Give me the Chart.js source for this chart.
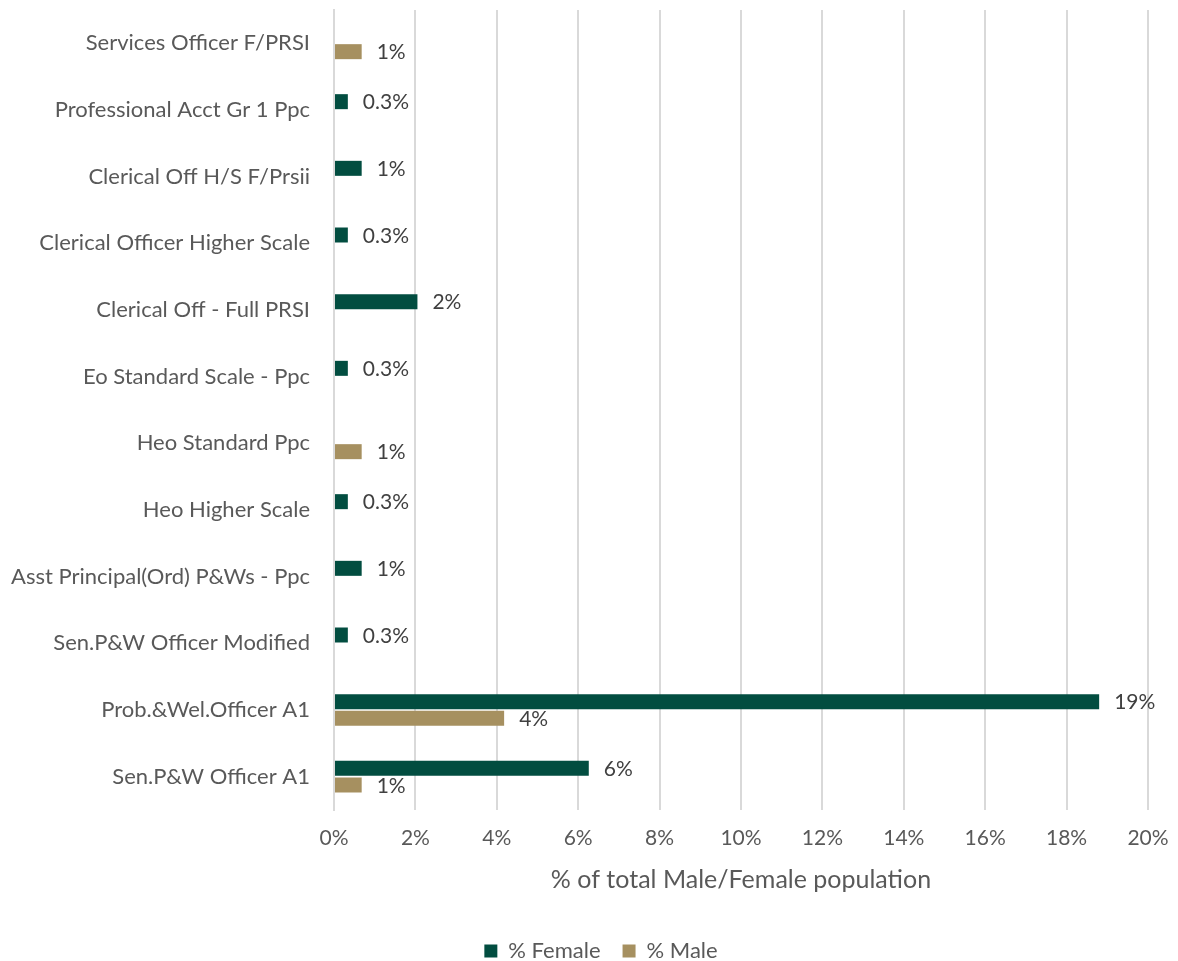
<!DOCTYPE html>
<html>
<head>
<meta charset="utf-8">
<script src="https://cdn.jsdelivr.net/npm/chart.js@4/dist/chart.umd.min.js"></script>
<style>
  html, body { margin: 0; padding: 0; background: #ffffff; overflow: hidden; }
  #wrap { width: 1178px; height: 961px; position: relative; overflow: hidden; }
  #chart { display: block; }
</style>
</head>
<body>
<div id="wrap"><canvas id="chart" width="1178" height="972"></canvas></div>
<script>
// Grades, listed top to bottom
const grades = [
  "Services Officer F/PRSI",
  "Professional Acct Gr 1 Ppc",
  "Clerical Off H/S F/Prsii",
  "Clerical Officer Higher Scale",
  "Clerical Off - Full PRSI",
  "Eo Standard Scale - Ppc",
  "Heo Standard Ppc",
  "Heo Higher Scale",
  "Asst Principal(Ord) P&Ws - Ppc",
  "Sen.P&W Officer Modified",
  "Prob.&Wel.Officer A1",
  "Sen.P&W Officer A1"
];

// Share of the total female / male population in each grade (%)
const femaleShare = [null, 0.34, 0.68, 0.34, 2.05, 0.34, null, 0.34, 0.68, 0.34, 18.8, 6.26];
const maleShare   = [0.68, null, null, null, null, null, 0.68, null, null, null, 4.18, 0.68];

// Value axis ticks (%)
const axisTicks = [0, 2, 4, 6, 8, 10, 12, 14, 16, 18, 20];

const FONT = "Lato, 'Open Sans', sans-serif";
const TEXT = "#595959";

function pctLabel(v) {
  return (v < 0.5 ? v.toFixed(1) : Math.round(v).toString()) + "%";
}

// Writes each bar's value just past its end
const barValueLabels = {
  id: "barValueLabels",
  afterDatasetsDraw(chart) {
    const ctx = chart.ctx;
    ctx.save();
    ctx.font = "21px " + FONT;
    ctx.fillStyle = "#404040";
    ctx.textAlign = "left";
    ctx.textBaseline = "middle";
    chart.data.datasets.forEach((ds, di) => {
      const meta = chart.getDatasetMeta(di);
      meta.data.forEach((bar, i) => {
        const v = ds.data[i];
        if (v === null || v === undefined) return;
        ctx.fillText(pctLabel(v), bar.x + 15, bar.y + 1);
      });
    });
    ctx.restore();
  }
};

new Chart(document.getElementById("chart"), {
  type: "bar",
  data: {
    labels: grades,
    datasets: [
      {
        label: "% Female",
        data: femaleShare,
        backgroundColor: "#024D40",
        borderWidth: 0,
        categoryPercentage: 0.5,
        barPercentage: 0.9
      },
      {
        label: "% Male",
        data: maleShare,
        backgroundColor: "#A69060",
        borderWidth: 0,
        categoryPercentage: 0.5,
        barPercentage: 0.9
      }
    ]
  },
  options: {
    indexAxis: "y",
    responsive: false,
    animation: false,
    devicePixelRatio: 1,
    layout: { padding: { top: 10, right: -14, bottom: 0, left: 10 } },
    plugins: {
      legend: {
        position: "bottom",
        labels: {
          color: TEXT,
          font: { family: FONT, size: 22 },
          boxWidth: 13,
          boxHeight: 13,
          padding: 22,
          generateLabels(chart) {
            return chart.data.datasets.map((ds, i) => ({
              text: ds.label,
              fillStyle: ds.backgroundColor,
              strokeStyle: ds.backgroundColor,
              lineWidth: 0,
              fontColor: TEXT,
              datasetIndex: i,
              hidden: false
            }));
          }
        }
      },
      tooltip: { enabled: false }
    },
    scales: {
      x: {
        min: 0,
        max: 20,
        afterBuildTicks(scale) {
          scale.ticks = axisTicks.map(v => ({ value: v }));
        },
        ticks: {
          color: TEXT,
          font: { family: FONT, size: 21 },
          padding: 16,
          callback: v => v + "%"
        },
        grid: { color: "#d9d9d9", lineWidth: 2, drawTicks: false },
        border: { display: false },
        title: {
          display: true,
          text: "% of total Male/Female population",
          color: TEXT,
          font: { family: FONT, size: 25 },
          padding: { top: 10, bottom: 23 }
        },
        afterFit(scale) {
          scale.height = 108;
          scale.paddingLeft = 0;
          scale.paddingRight = 30;
        }
      },
      y: {
        ticks: {
          color: TEXT,
          font: { family: FONT, size: 22 },
          padding: 24
        },
        grid: { display: false, drawTicks: false },
        border: { display: true, color: "#d9d9d9", width: 2 },
        afterFit(scale) {
          scale.width = 324;
          scale.paddingTop = 0;
          scale.paddingBottom = 0;
        }
      }
    }
  },
  plugins: [barValueLabels]
});
</script>
</body>
</html>
